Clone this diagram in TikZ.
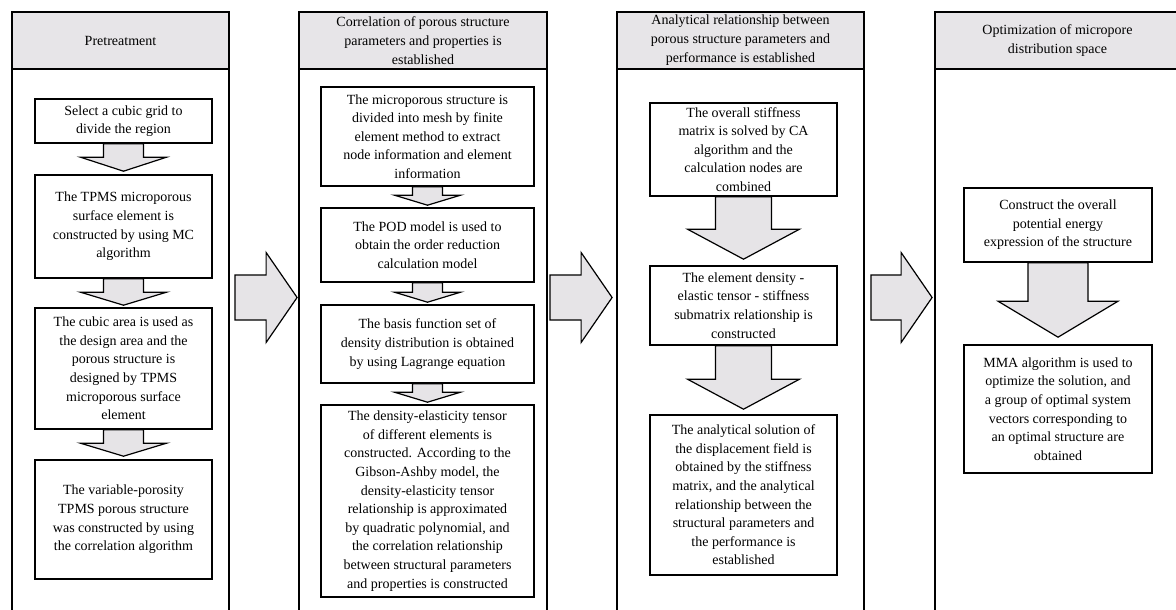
\documentclass[tikz,border=0pt]{standalone}
\usepackage{fontspec}
\setmainfont{Liberation Serif}
\usetikzlibrary{calc}
\definecolor{hdrgray}{RGB}{231,229,232}
\definecolor{arrgray}{RGB}{230,228,231}
\tikzset{
  colbox/.style={draw=black, line width=1.8pt, fill=white, inner sep=0pt},
  hdr/.style={draw=black, line width=1.8pt, fill=hdrgray, inner sep=0pt, align=center,
    font=\fontsize{14}{19}\selectfont},
  stepbox/.style={draw=black, line width=1.6pt, fill=white, inner sep=0pt, align=center,
    font=\fontsize{14}{18.6}\selectfont},
  arr/.style={draw=black, line width=1.2pt, fill=arrgray, line join=miter},
}
% vertical block arrow: from, to, shaft half, head half, head length, gap
\newcommand\varrow[6]{%
  \filldraw[arr] let \p1=(#1.south), \p2=(#2.north) in
   ({\x1-#3pt},\y1) -- ({\x1-#3pt},{\y2+#6pt+#5pt}) -- ({\x1-#4pt},{\y2+#6pt+#5pt})
   -- (\x1,{\y2+#6pt}) -- ({\x1+#4pt},{\y2+#6pt+#5pt}) -- ({\x1+#3pt},{\y2+#6pt+#5pt})
   -- ({\x1+#3pt},\y1) -- cycle;}
% horizontal block arrow: left node, right node, left gap, right gap
\newcommand\harrow[4]{%
  \filldraw[arr] let \p1=(#1.east), \p2=(#2.west), \p3=(mid) in
   ({\x1+#3pt},{\y3+22.5pt}) -- ({\x2-#4pt-31pt},{\y3+22.5pt}) -- ({\x2-#4pt-31pt},{\y3+45pt})
   -- ({\x2-#4pt},\y3) -- ({\x2-#4pt-31pt},{\y3-45pt}) -- ({\x2-#4pt-31pt},{\y3-22.5pt})
   -- ({\x1+#3pt},{\y3-22.5pt}) -- cycle;}
\begin{document}
\begin{tikzpicture}[x=1pt,y=-1pt]
\useasboundingbox (0,0) rectangle (1176,610);
\clip (0,0) rectangle (1176,610);
\fill[white] (0,0) rectangle (1176,610);
\coordinate (mid) at (0,297.5);

% columns
\node[colbox, minimum width=217pt, minimum height=600pt] (col1) at (120.5,312) {};
\node[colbox, minimum width=248pt, minimum height=600pt] (col2) at (423,312) {};
\node[colbox, minimum width=247pt, minimum height=600pt] (col3) at (740.5,312) {};
\node[colbox, minimum width=245pt, minimum height=600pt] (col4) at (1057.5,312) {};

% headers
\node[hdr, minimum width=217pt, minimum height=57pt] (h1) at (120.5,40.5) {Pretreatment};
\node[hdr, minimum width=248pt, minimum height=57pt] (h2) at (423,40.5)
  {Correlation of porous structure\\parameters and properties is\\established};
\node[hdr, minimum width=247pt, minimum height=57pt] (h3) at (740.5,40.5)
  {Analytical relationship between\\porous structure parameters and\\performance is established};
\node[hdr, minimum width=245pt, minimum height=57pt] (h4) at (1057.5,40.5)
  {Optimization of micropore\\distribution space};

% column 1
\node[stepbox, minimum width=177pt, minimum height=44pt] (a1) at (123.5,121)
  {Select a cubic grid to\\divide the region};
\node[stepbox, minimum width=177pt, minimum height=103pt] (a2) at (123.5,226.5)
  {The TPMS microporous\\surface element is\\constructed by using MC\\algorithm};
\node[stepbox, minimum width=177pt, minimum height=121pt] (a3) at (123.5,368.5)
  {The cubic area is used as\\the design area and the\\porous structure is\\designed by TPMS\\microporous surface\\element};
\node[stepbox, minimum width=177pt, minimum height=119pt] (a4) at (123.5,519.5)
  {The variable-porosity\\TPMS porous structure\\was constructed by using\\the correlation algorithm};

% column 2
\node[stepbox, minimum width=213pt, minimum height=99pt] (b1) at (427.5,136.5)
  {The microporous structure is\\divided into mesh by finite\\element method to extract\\node information and element\\information};
\node[stepbox, minimum width=213pt, minimum height=74pt] (b2) at (427.5,245)
  {The POD model is used to\\obtain the order reduction\\calculation model};
\node[stepbox, minimum width=213pt, minimum height=78pt] (b3) at (427.5,344)
  {The basis function set of\\density distribution is obtained\\by using Lagrange equation};
\node[stepbox, minimum width=213pt, minimum height=192pt] (b4) at (427.5,501)
  {The density-elasticity tensor\\of different elements is\\constructed. According to the\\Gibson-Ashby model, the\\density-elasticity tensor\\relationship is approximated\\by quadratic polynomial, and\\the correlation relationship\\between structural parameters\\and properties is constructed};

% column 3
\node[stepbox, minimum width=187pt, minimum height=93pt] (c1) at (743.5,149.5)
  {The overall stiffness\\matrix is solved by CA\\algorithm and the\\calculation nodes are\\combined};
\node[stepbox, minimum width=187pt, minimum height=79pt] (c2) at (743.5,305.5)
  {The element density -\\elastic tensor - stiffness\\submatrix relationship is\\constructed};
\node[stepbox, minimum width=187pt, minimum height=160pt] (c3) at (743.5,495)
  {The analytical solution of\\the displacement field is\\obtained by the stiffness\\matrix, and the analytical\\relationship between the\\structural parameters and\\the performance is\\established};

% column 4
\node[stepbox, minimum width=188pt, minimum height=74pt] (d1) at (1058,225)
  {Construct the overall\\potential energy\\expression of the structure};
\node[stepbox, minimum width=188pt, minimum height=128pt] (d2) at (1058,409)
  {MMA algorithm is used to\\optimize the solution, and\\a group of optimal system\\vectors corresponding to\\an optimal structure are\\obtained};

% vertical arrows
\varrow{a1}{a2}{20}{43}{14}{3}
\varrow{a2}{a3}{20}{43}{13}{2}
\varrow{a3}{a4}{20}{43}{13}{3}
\varrow{b1}{b2}{15}{33}{10}{2}
\varrow{b2}{b3}{15}{33}{10}{2}
\varrow{b3}{b4}{15}{33}{10}{2}
\varrow{c1}{c2}{28}{56}{30}{6}
\varrow{c2}{c3}{28}{56}{30}{5}
\varrow{d1}{d2}{30}{60}{36}{7}

% horizontal arrows
\harrow{col1}{col2}{5}{1}
\harrow{col2}{col3}{2}{4}
\harrow{col3}{col4}{6}{2}
\end{tikzpicture}
\end{document}
